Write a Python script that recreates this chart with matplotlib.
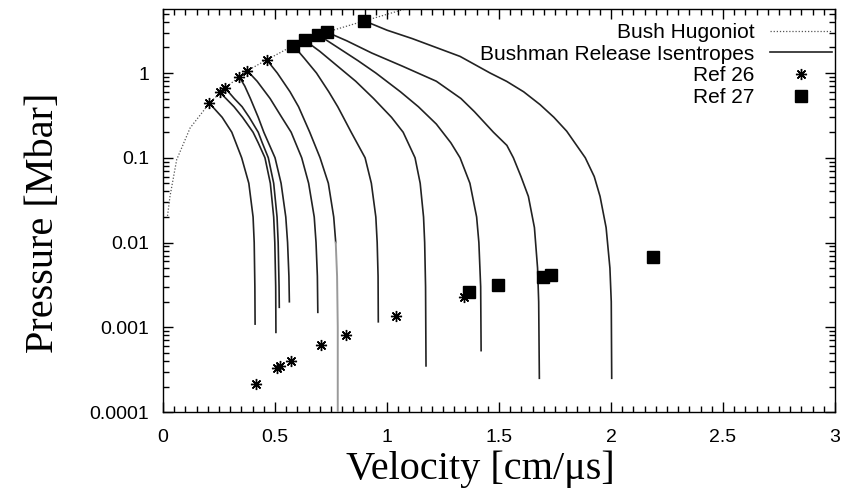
import matplotlib.pyplot as plt
from matplotlib.ticker import MultipleLocator, LogLocator, FixedLocator, FixedFormatter, NullFormatter

# Bush Hugoniot (dotted)
hug_u = [0.02, 0.031, 0.061, 0.121, 0.207, 0.277, 0.376, 0.463, 0.582, 0.731, 0.899, 1.147]
hug_p = [0.0206, 0.035, 0.095, 0.225, 0.44, 0.667, 1.064, 1.43, 2.11, 3.04, 4.12, 6.4]

# Ref 26 (asterisks)
ref26_u = [0.207, 0.254, 0.277, 0.341, 0.376, 0.463,
           0.414, 0.508, 0.522, 0.570, 0.705, 0.817, 1.040, 1.344]
ref26_p = [0.44, 0.591, 0.667, 0.897, 1.064, 1.43,
           0.000215, 0.00033, 0.000353, 0.000398, 0.00062, 0.00082, 0.00137, 0.00229]

# Ref 27 (squares)
ref27_u = [0.582, 0.634, 0.693, 0.731, 0.899, 1.366, 1.497, 1.698, 1.731, 2.189]
ref27_p = [2.11, 2.42, 2.82, 3.04, 4.12, 0.00258, 0.00315, 0.00394, 0.00412, 0.00667]

# Bushman release isentropes, one list per curve (velocity, pressure)
isen_u = [
    [0.207, 0.264, 0.307, 0.351, 0.383, 0.402, 0.407, 0.410, 0.411],
    [0.254, 0.317, 0.355, 0.402, 0.425, 0.455, 0.479, 0.494, 0.499, 0.503, 0.504],
    [0.277, 0.318, 0.353, 0.385, 0.425, 0.443, 0.470, 0.494, 0.509, 0.514, 0.518, 0.519],
    [0.341, 0.365, 0.390, 0.425, 0.450, 0.500, 0.527, 0.548, 0.556, 0.562, 0.564],
    [0.376, 0.420, 0.478, 0.530, 0.572, 0.619, 0.650, 0.675, 0.683, 0.689, 0.691],
    [0.463, 0.510, 0.567, 0.605, 0.655, 0.701, 0.738, 0.762, 0.771, 0.777, 0.780, 0.780],
    [0.582, 0.630, 0.685, 0.740, 0.780, 0.805, 0.840, 0.902, 0.930, 0.950, 0.956, 0.960, 0.961],
    [0.634, 0.700, 0.780, 0.860, 0.940, 1.020, 1.072, 1.125, 1.148, 1.163, 1.168, 1.172, 1.174],
    [0.693, 0.780, 0.870, 0.950, 1.060, 1.140, 1.220, 1.285, 1.326, 1.370, 1.400, 1.410, 1.418, 1.420],
    [0.731, 0.820, 0.932, 1.070, 1.220, 1.330, 1.390, 1.475, 1.535, 1.564, 1.598, 1.631, 1.658,
     1.672, 1.677, 1.680],
    [0.899, 1.000, 1.112, 1.326, 1.460, 1.534, 1.610, 1.683, 1.745, 1.802, 1.885, 1.925, 1.951,
     1.978, 1.995, 2.001, 2.003],
]
isen_p = [
    [0.44, 0.3, 0.2, 0.1, 0.05, 0.02, 0.01, 0.003, 0.00109],
    [0.591, 0.4, 0.3, 0.2, 0.15, 0.1, 0.05, 0.02, 0.01, 0.003, 0.00087],
    [0.667, 0.5, 0.4, 0.3, 0.2, 0.15, 0.1, 0.05, 0.02, 0.01, 0.003, 0.00172],
    [0.897, 0.7, 0.5, 0.3, 0.2, 0.1, 0.05, 0.02, 0.01, 0.004, 0.002],
    [1.064, 0.8, 0.5, 0.3, 0.2, 0.1, 0.05, 0.02, 0.01, 0.004, 0.0015],
    [1.43, 1.0, 0.6, 0.4, 0.2, 0.1, 0.05, 0.02, 0.01, 0.004, 0.001, 0.00001],
    [2.11, 1.5, 1.0, 0.6, 0.4, 0.3, 0.2, 0.1, 0.05, 0.02, 0.01, 0.004, 0.00116],
    [2.42, 1.8, 1.2, 0.8, 0.5, 0.3, 0.2, 0.1, 0.05, 0.02, 0.01, 0.003, 0.00035],
    [2.82, 2.0, 1.4, 1.0, 0.6, 0.4, 0.25, 0.15, 0.1, 0.05, 0.02, 0.01, 0.003, 0.00053],
    [3.04, 2.4, 1.72, 1.2, 0.8, 0.5, 0.35, 0.2, 0.14, 0.1, 0.06, 0.035, 0.015,
     0.005, 0.002, 0.00025],
    [4.12, 3.2, 2.55, 1.57, 1.0, 0.797, 0.6, 0.424, 0.3, 0.206, 0.1, 0.06, 0.035,
     0.015, 0.005, 0.002, 0.00025],
]
# the isentrope whose tail runs down past the bottom is drawn grey below this pressure
grey_tail_curve = 5
grey_tail_from = 0.01

xticks = [0, 0.5, 1, 1.5, 2, 2.5, 3]
xtick_labels = ["0", "0.5", "1", "1.5", "2", "2.5", "3"]
yticks = [0.0001, 0.001, 0.01, 0.1, 1]
ytick_labels = ["0.0001", "0.001", "0.01", "0.1", "1"]

plt.rcParams['font.family'] = ['Liberation Sans', 'DejaVu Sans']

fig = plt.figure(figsize=(8.5, 4.97), dpi=100)
ax = fig.add_axes([0.1918, 0.171, 0.7906, 0.811])

ax.plot(hug_u, hug_p, color='#555555', linestyle=(0, (1, 1.5)), linewidth=0.9,
        label='Bush Hugoniot', zorder=2)
for i, (u, p) in enumerate(zip(isen_u, isen_p)):
    if i == grey_tail_curve:
        k = p.index(grey_tail_from)
        ax.plot(u[:k + 1], p[:k + 1], color='#222222', linewidth=1.2, zorder=3)
        ax.plot(u[k:], p[k:], color='#9a9a9a', linewidth=1.4, zorder=3)
    else:
        ax.plot(u, p, color='#222222', linewidth=1.2,
                label='Bushman Release Isentropes' if i == 0 else None, zorder=3)
ax.plot(ref26_u, ref26_p, linestyle='none', marker=(8, 2, 0), markersize=8,
        markeredgewidth=1.0, color='black', label='Ref 26', zorder=4)
ax.plot(ref27_u, ref27_p, linestyle='none', marker='s', markersize=8,
        color='black', label='Ref 27', zorder=4)

ax.set_yscale('log')
ax.set_xlim(0, 3)
ax.set_ylim(0.0001, 5.7)

ax.xaxis.set_major_locator(FixedLocator(xticks))
ax.xaxis.set_major_formatter(FixedFormatter(xtick_labels))
ax.xaxis.set_minor_locator(MultipleLocator(0.05))
ax.yaxis.set_major_locator(FixedLocator(yticks))
ax.yaxis.set_major_formatter(FixedFormatter(ytick_labels))
ax.yaxis.set_minor_locator(LogLocator(base=10, subs=range(2, 10)))
ax.yaxis.set_minor_formatter(NullFormatter())

ax.tick_params(which='both', direction='in', top=True, right=True, labelsize=14, width=1.0)
ax.tick_params(which='major', length=7)
ax.tick_params(which='minor', length=4)
ax.tick_params(axis='y', pad=10)
ax.tick_params(axis='x', pad=12)
for s in ax.spines.values():
    s.set_linewidth(1.0)

ax.set_xlabel('Velocity [cm/\u03bcs]', family='Liberation Serif', fontsize=29)
ax.set_ylabel('Pressure [Mbar]', family='Liberation Serif', fontsize=29)
ax.xaxis.set_label_coords(0.472, -0.095)
ax.yaxis.set_label_coords(-0.15, 0.47)

ax.legend(loc='upper right', bbox_to_anchor=(0.9955, 0.965), markerfirst=False,
          frameon=False, fontsize=15, handlelength=3.0, handletextpad=0.72,
          labelspacing=0.13, borderaxespad=0, borderpad=0, numpoints=1)

fig.savefig('out.png', dpi=100)
